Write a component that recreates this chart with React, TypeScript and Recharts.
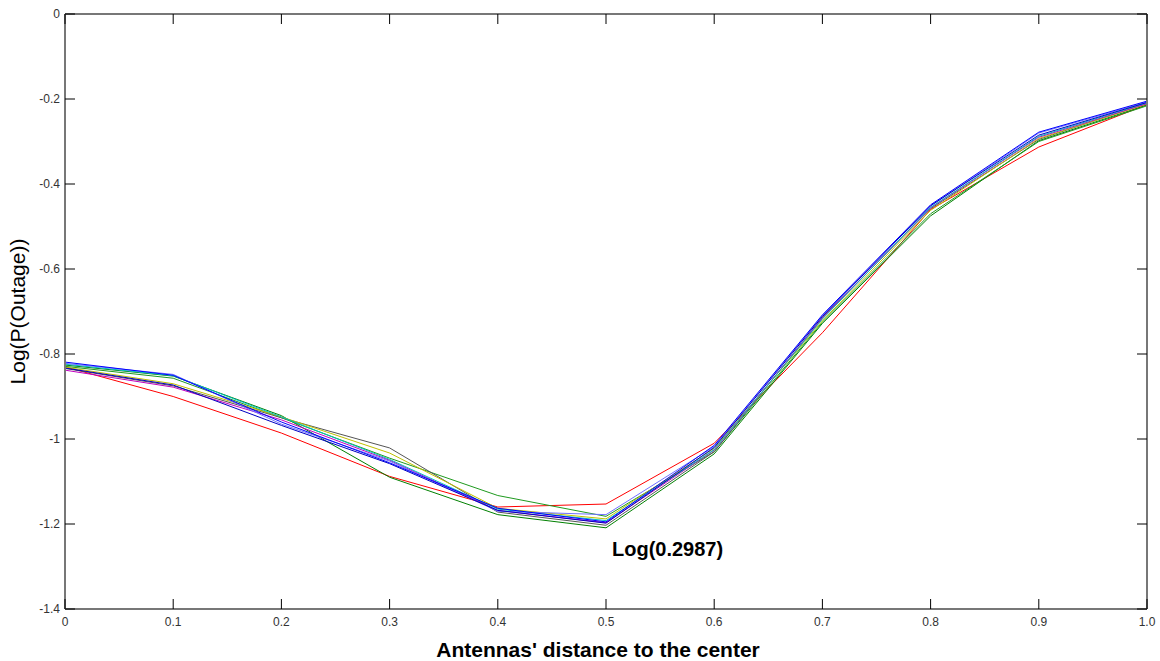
import { LineChart, Line, XAxis, YAxis, ReferenceDot } from "recharts";

// distances (x) and log outage values per run
const distances = [0, 0.1, 0.2, 0.3, 0.4, 0.5, 0.6, 0.7, 0.8, 0.9, 1.0];

const redRun = [-0.83, -0.9, -0.986, -1.088, -1.16, -1.153, -1.01, -0.75, -0.46, -0.313, -0.213];
const greenRun = [-0.826, -0.852, -0.945, -1.09, -1.178, -1.209, -1.035, -0.728, -0.475, -0.298, -0.214];
const green2Run = [-0.829, -0.857, -0.95, -1.045, -1.133, -1.182, -1.03, -0.725, -0.47, -0.3, -0.216];
const grayRun = [-0.834, -0.875, -0.95, -1.021, -1.172, -1.203, -1.03, -0.715, -0.458, -0.295, -0.21];
const oliveRun = [-0.831, -0.87, -0.948, -1.033, -1.163, -1.188, -1.022, -0.722, -0.462, -0.293, -0.212];
const magentaRun = [-0.838, -0.878, -0.955, -1.05, -1.168, -1.197, -1.026, -0.716, -0.456, -0.29, -0.211];
const cyanRun = [-0.824, -0.851, -0.948, -1.048, -1.165, -1.192, -1.025, -0.718, -0.455, -0.288, -0.209];
const lightBlueRun = [-0.822, -0.848, -0.965, -1.052, -1.17, -1.178, -1.018, -0.71, -0.452, -0.28, -0.207];
const blue2Run = [-0.833, -0.873, -0.968, -1.058, -1.168, -1.198, -1.02, -0.712, -0.451, -0.285, -0.208];
const blueRun = [-0.819, -0.85, -0.96, -1.056, -1.163, -1.195, -1.015, -0.708, -0.449, -0.278, -0.205];

const xTicks = [0, 0.1, 0.2, 0.3, 0.4, 0.5, 0.6, 0.7, 0.8, 0.9, 1.0];
const yTicks = [0, -0.2, -0.4, -0.6, -0.8, -1, -1.2, -1.4];

const runs = [
    { key: "red", values: redRun, color: "#ff0000" },
    { key: "green", values: greenRun, color: "#008000" },
    { key: "green2", values: green2Run, color: "#1f9a1f" },
    { key: "gray", values: grayRun, color: "#555555" },
    { key: "olive", values: oliveRun, color: "#c0c000" },
    { key: "magenta", values: magentaRun, color: "#c000c0" },
    { key: "cyan", values: cyanRun, color: "#00c0c0" },
    { key: "lightBlue", values: lightBlueRun, color: "#7070ff" },
    { key: "blue2", values: blue2Run, color: "#0000c0" },
    { key: "blue", values: blueRun, color: "#0000ff" },
];

const chartData = distances.map((d, i) => {
    const row: any = { x: d };
    runs.forEach((r) => {
        row[r.key] = r.values[i];
    });
    return row;
});

const FONT = "'Liberation Sans', Arial, sans-serif";
const TICK_LEN = 10;
const BOX = { stroke: "#777", strokeWidth: 2 };

const BottomTick = (props: any) => {
    const { x, y, payload } = props;
    const v = payload.value;
    const label = v === 1 ? "1.0" : String(v);
    return (
        <g>
            <line x1={x} y1={y} x2={x} y2={y - TICK_LEN} stroke="#000" />
            <text x={x} y={y + 17} textAnchor="middle" fontSize={12} fontFamily={FONT} fill="#333">
                {label}
            </text>
        </g>
    );
};

const TopTick = (props: any) => {
    const { x, y } = props;
    return <line x1={x} y1={y} x2={x} y2={y + TICK_LEN} stroke="#000" />;
};

const LeftTick = (props: any) => {
    const { x, y, payload } = props;
    return (
        <g>
            <line x1={x} y1={y} x2={x + TICK_LEN} y2={y} stroke="#000" />
            <text x={x - 5} y={y + 4} textAnchor="end" fontSize={12} fontFamily={FONT} fill="#333">
                {String(payload.value)}
            </text>
        </g>
    );
};

const RightTick = (props: any) => {
    const { x, y } = props;
    return <line x1={x} y1={y} x2={x - TICK_LEN} y2={y} stroke="#000" />;
};

const XTitle = (props: any) => {
    const { viewBox } = props;
    const cx = viewBox.x + viewBox.width / 2 - 8;
    return (
        <text x={cx} y={viewBox.y + 48} textAnchor="middle" fontSize={21} fontWeight="bold" fontFamily={FONT} fill="#000">
            Antennas' distance to the center
        </text>
    );
};

const YTitle = (props: any) => {
    const { viewBox } = props;
    const cy = viewBox.y + viewBox.height / 2;
    const cx = 25;
    return (
        <text
            x={cx}
            y={cy}
            transform={`rotate(-90, ${cx}, ${cy})`}
            textAnchor="middle"
            fontSize={21}
            fontFamily={FONT}
            fill="#000"
        >
            Log(P(Outage))
        </text>
    );
};

const Annotation = (props: any) => {
    const { cx, cy } = props;
    return (
        <text x={cx + 6} y={cy + 7} textAnchor="start" fontSize={20} fontWeight="bold" fontFamily={FONT} fill="#000">
            Log(0.2987)
        </text>
    );
};

export default function App() {
    return (
        <div style={{ position: "absolute", left: 0, top: 0, width: 1160, height: 661, background: "#fff" }}>
            <LineChart
                width={1160}
                height={661}
                data={chartData}
                margin={{ top: 13, right: 12, bottom: 12, left: 10 }}
            >
                <XAxis
                    dataKey="x"
                    type="number"
                    domain={[0, 1]}
                    ticks={xTicks}
                    interval={0}
                    height={40}
                    tickSize={0}
                    tickMargin={0}
                    tick={<BottomTick />}
                    axisLine={BOX}
                    label={<XTitle />}
                />
                <XAxis
                    xAxisId="top"
                    orientation="top"
                    dataKey="x"
                    type="number"
                    domain={[0, 1]}
                    ticks={xTicks}
                    interval={0}
                    height={1}
                    tickSize={0}
                    tickMargin={0}
                    tick={<TopTick />}
                    axisLine={BOX}
                />
                <YAxis
                    type="number"
                    domain={[-1.4, 0]}
                    ticks={yTicks}
                    interval={0}
                    width={55}
                    tickSize={0}
                    tickMargin={0}
                    tick={<LeftTick />}
                    axisLine={BOX}
                    label={<YTitle />}
                />
                <YAxis
                    yAxisId="right"
                    orientation="right"
                    type="number"
                    domain={[-1.4, 0]}
                    ticks={yTicks}
                    interval={0}
                    width={1}
                    tickSize={0}
                    tickMargin={0}
                    tick={<RightTick />}
                    axisLine={BOX}
                />
                {runs.map((r) => (
                    <Line
                        key={r.key}
                        dataKey={r.key}
                        type="linear"
                        stroke={r.color}
                        strokeWidth={1}
                        dot={false}
                        activeDot={false}
                        isAnimationActive={false}
                    />
                ))}
                {/* invisible series so the top/right box axes get a domain */}
                <Line
                    xAxisId="top"
                    yAxisId="right"
                    dataKey="blue"
                    stroke="none"
                    dot={false}
                    activeDot={false}
                    isAnimationActive={false}
                />
                <ReferenceDot x={0.5} y={-1.259} r={0} shape={<Annotation />} />
            </LineChart>
        </div>
    );
}
